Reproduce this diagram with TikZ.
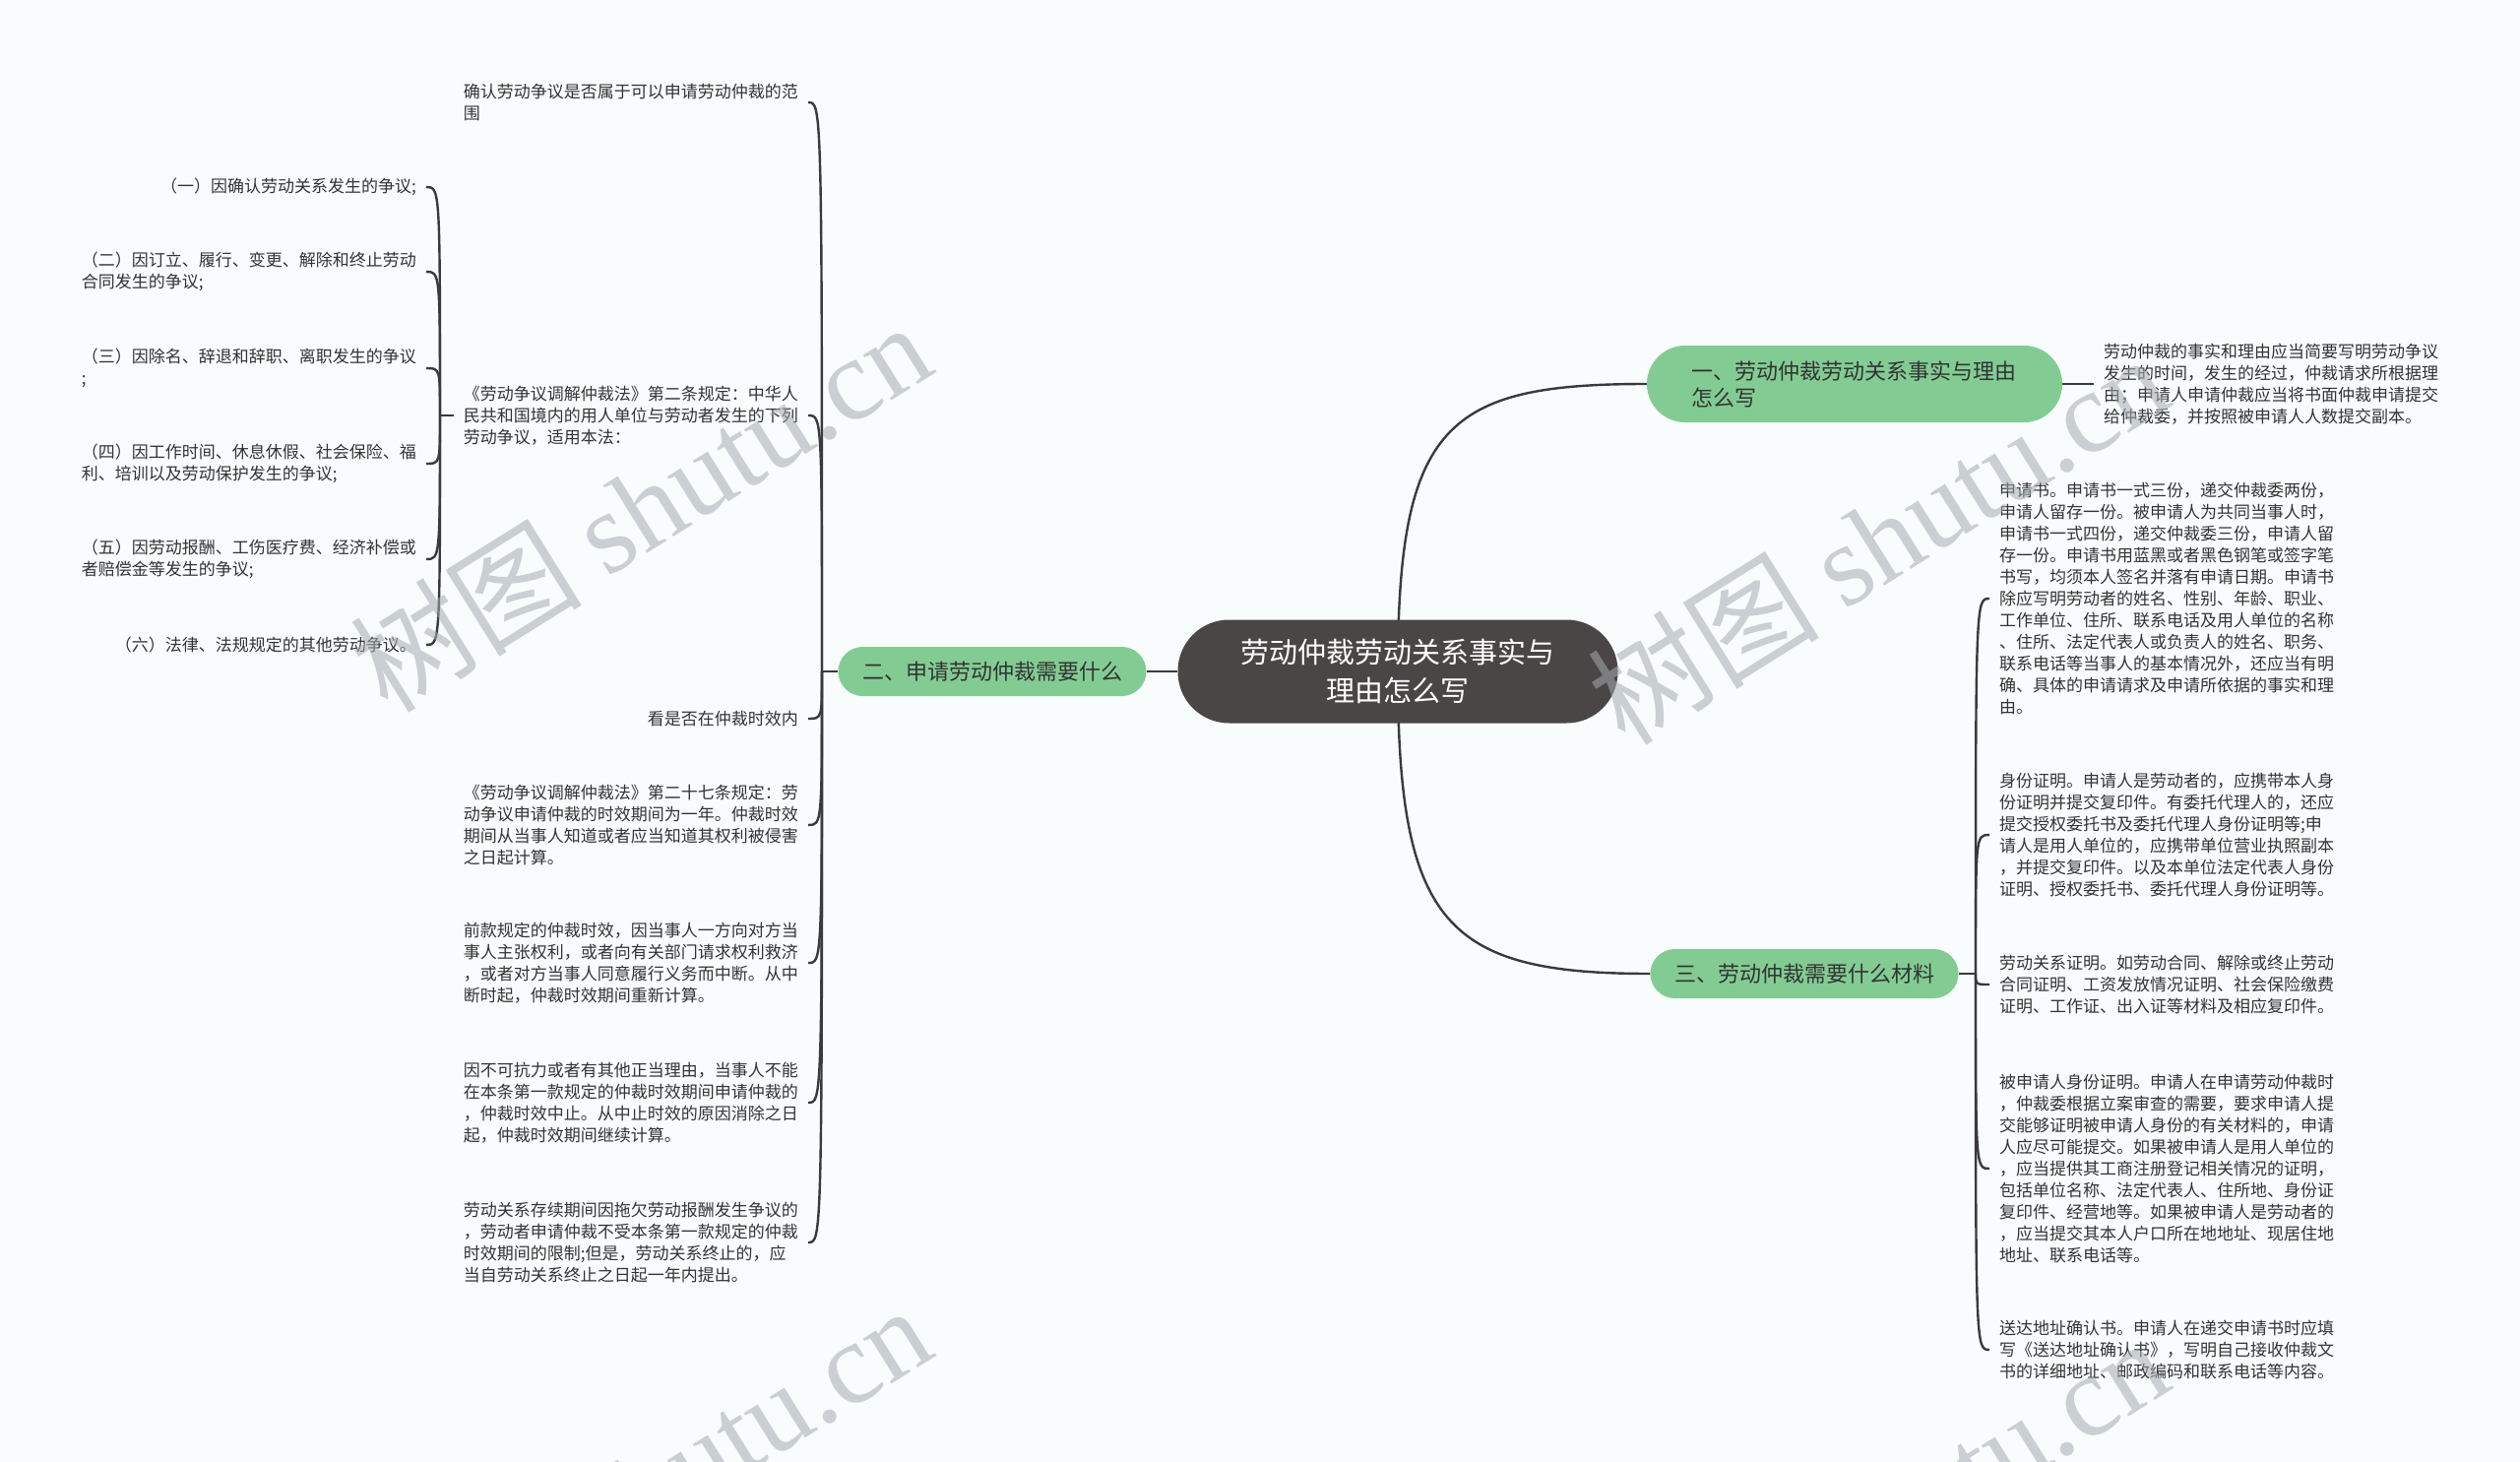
\documentclass[tikz,border=0pt]{standalone}
\usepackage{fontspec}
\setmainfont{Noto Sans CJK SC}
\newfontfamily\wmlatin{Liberation Serif}
\usetikzlibrary{calc}
\pgfdeclarelayer{bg}
\pgfdeclarelayer{edge}
\pgfsetlayers{bg,edge,main}
\definecolor{bgc}{HTML}{F8FCFD}
\definecolor{darkc}{HTML}{4B4646}
\definecolor{grn}{HTML}{82CC93}
\definecolor{txt}{HTML}{333333}
\definecolor{lnc}{HTML}{3A3A3A}
\definecolor{wmc}{HTML}{A3ABAF}
\begin{document}
\begin{tikzpicture}[x=1pt,y=-1pt,
  conn/.style={draw=lnc, line width=2.4pt},
  leaftxt/.style={inner xsep=10pt, inner ysep=3pt, align=left, text=txt, font=\fontsize{17pt}{22pt}\selectfont},
  leafL/.style={leaftxt, anchor=east},
  leafR/.style={leaftxt, anchor=west},
  central/.style={fill=darkc, text=white, rounded corners=52pt, minimum width=447pt, minimum height=105pt, align=center, inner sep=0pt, font=\fontsize{29pt}{39pt}\selectfont},
  greenbox/.style={fill=grn, text=txt, inner sep=0pt, font=\fontsize{22pt}{27pt}\selectfont},
  wm/.style={text=wmc, text opacity=0.55, font=\fontsize{118pt}{118pt}\selectfont, rotate=32, inner sep=0pt}
]
\begin{pgfonlayer}{bg}
\fill[bgc] (0,0) rectangle (2560,1485);
\end{pgfonlayer}
\useasboundingbox (0,0) rectangle (2560,1485);

% main nodes
\node[central] (c) at (1420,682) {劳动仲裁劳动关系事实与\\理由怎么写};
\node[greenbox, text width=332pt, align=left, minimum width=422pt, minimum height=78pt, rounded corners=39pt, inner xsep=45pt] (n1) at (1884,390) {一、劳动仲裁劳动关系事实与理由\\怎么写};
\node[greenbox, minimum width=313pt, minimum height=50pt, rounded corners=25pt] (n2) at (1008,682) {二、申请劳动仲裁需要什么};
\node[greenbox, minimum width=313pt, minimum height=50pt, rounded corners=25pt] (n3) at (1833,989) {三、劳动仲裁需要什么材料};

% branch 1 leaf
\node[leafR] (r1) at (2127,390) {劳动仲裁的事实和理由应当简要写明劳动争议\\发生的时间，发生的经过，仲裁请求所根据理\\由；申请人申请仲裁应当将书面仲裁申请提交\\给仲裁委，并按照被申请人人数提交副本。};

% branch 2 leaves
\node[leafL] (a1) at (821,104) {确认劳动争议是否属于可以申请劳动仲裁的范\\围};
\node[leafL] (a2) at (821,422) {《劳动争议调解仲裁法》第二条规定：中华人\\民共和国境内的用人单位与劳动者发生的下列\\劳动争议，适用本法：};
\node[leafL] (a3) at (821,730) {看是否在仲裁时效内};
\node[leafL] (a4) at (821,838) {《劳动争议调解仲裁法》第二十七条规定：劳\\动争议申请仲裁的时效期间为一年。仲裁时效\\期间从当事人知道或者应当知道其权利被侵害\\之日起计算。};
\node[leafL] (a5) at (821,978) {前款规定的仲裁时效，因当事人一方向对方当\\事人主张权利，或者向有关部门请求权利救济\\，或者对方当事人同意履行义务而中断。从中\\断时起，仲裁时效期间重新计算。};
\node[leafL] (a6) at (821,1120) {因不可抗力或者有其他正当理由，当事人不能\\在本条第一款规定的仲裁时效期间申请仲裁的\\，仲裁时效中止。从中止时效的原因消除之日\\起，仲裁时效期间继续计算。};
\node[leafL] (a7) at (821,1262) {劳动关系存续期间因拖欠劳动报酬发生争议的\\，劳动者申请仲裁不受本条第一款规定的仲裁\\时效期间的限制;但是，劳动关系终止的，应\\当自劳动关系终止之日起一年内提出。};

% items of a2
\node[leafL] (i1) at (433,190) {（一）因确认劳动关系发生的争议;};
\node[leafL] (i2) at (433,276) {（二）因订立、履行、变更、解除和终止劳动\\合同发生的争议;};
\node[leafL] (i3) at (433,374) {（三）因除名、辞退和辞职、离职发生的争议\\;};
\node[leafL] (i4) at (433,471) {（四）因工作时间、休息休假、社会保险、福\\利、培训以及劳动保护发生的争议;};
\node[leafL] (i5) at (433,568) {（五）因劳动报酬、工伤医疗费、经济补偿或\\者赔偿金等发生的争议;};
\node[leafL] (i6) at (433,655) {（六）法律、法规规定的其他劳动争议。};

% branch 3 leaves
\node[leafR] (b1) at (2021,608) {申请书。申请书一式三份，递交仲裁委两份，\\申请人留存一份。被申请人为共同当事人时，\\申请书一式四份，递交仲裁委三份，申请人留\\存一份。申请书用蓝黑或者黑色钢笔或签字笔\\书写，均须本人签名并落有申请日期。申请书\\除应写明劳动者的姓名、性别、年龄、职业、\\工作单位、住所、联系电话及用人单位的名称\\、住所、法定代表人或负责人的姓名、职务、\\联系电话等当事人的基本情况外，还应当有明\\确、具体的申请请求及申请所依据的事实和理\\由。};
\node[leafR] (b2) at (2021,848) {身份证明。申请人是劳动者的，应携带本人身\\份证明并提交复印件。有委托代理人的，还应\\提交授权委托书及委托代理人身份证明等;申\\请人是用人单位的，应携带单位营业执照副本\\，并提交复印件。以及本单位法定代表人身份\\证明、授权委托书、委托代理人身份证明等。};
\node[leafR] (b3) at (2021,1000) {劳动关系证明。如劳动合同、解除或终止劳动\\合同证明、工资发放情况证明、社会保险缴费\\证明、工作证、出入证等材料及相应复印件。};
\node[leafR] (b4) at (2021,1187) {被申请人身份证明。申请人在申请劳动仲裁时\\，仲裁委根据立案审查的需要，要求申请人提\\交能够证明被申请人身份的有关材料的，申请\\人应尽可能提交。如果被申请人是用人单位的\\，应当提供其工商注册登记相关情况的证明，\\包括单位名称、法定代表人、住所地、身份证\\复印件、经营地等。如果被申请人是劳动者的\\，应当提交其本人户口所在地地址、现居住地\\地址、联系电话等。};
\node[leafR] (b5) at (2021,1371) {送达地址确认书。申请人在递交申请书时应填\\写《送达地址确认书》，写明自己接收仲裁文\\书的详细地址、邮政编码和联系电话等内容。};

% connectors
\begin{pgfonlayer}{edge}
\draw[conn] (c.center) .. controls (1420,430) and (1470,390) .. (n1.west);
\draw[conn] (c.center) .. controls (1420,940) and (1470,989) .. (n3.west);
\draw[conn] (c.west) -- (n2.east);
\draw[conn] (n1.east) -- (r1.west);
\coordinate (k2) at (835,682);
\draw[conn] (n2.west) -- (k2);
\foreach \t in {a1,a2,a3,a4,a5,a6,a7}
  \draw[conn] (k2) .. controls (k2 |- \t.east) .. (\t.east);
\coordinate (kL) at (447,422);
\draw[conn] (a2.west) -- (kL);
\foreach \t in {i1,i2,i3,i4,i5,i6}
  \draw[conn] (kL) .. controls (kL |- \t.east) .. (\t.east);
\coordinate (k3) at (2007,989);
\draw[conn] (n3.east) -- (k3);
\foreach \t in {b1,b2,b3,b4,b5}
  \draw[conn] (k3) .. controls (k3 |- \t.west) .. (\t.west);
\end{pgfonlayer}

% watermarks
\node[wm] (w1) at (650,514) {树图 {\wmlatin shutu.cn}};
\node[wm] (w2) at (1907,547) {树图 {\wmlatin shutu.cn}};
\node[wm] (w3) at (650,1513) {树图 {\wmlatin shutu.cn}};
\node[wm] (w4) at (1907,1546) {树图 {\wmlatin shutu.cn}};
\end{tikzpicture}
\end{document}
